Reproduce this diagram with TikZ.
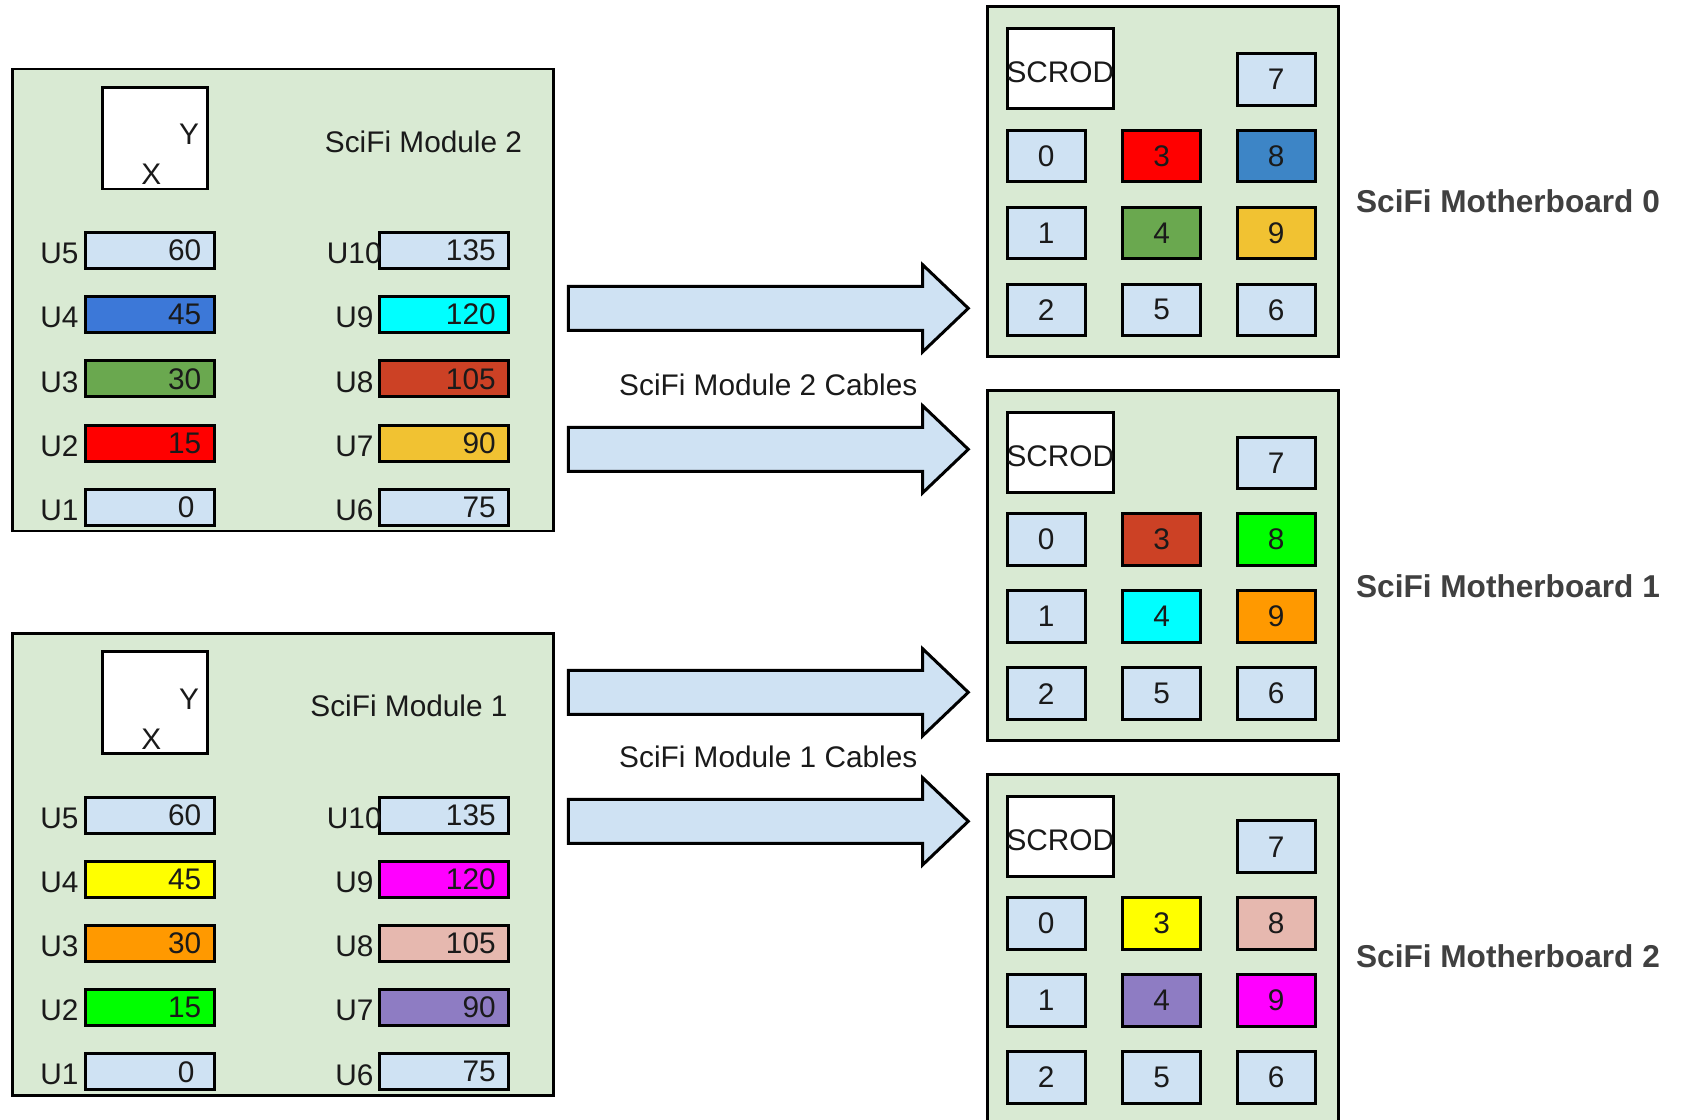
\documentclass[tikz,border=0pt]{standalone}
\usepackage{fontspec}
\setmainfont{Liberation Sans}
\definecolor{bggreen}{HTML}{D9EAD3}
\definecolor{lblue}{HTML}{CFE2F3}
\definecolor{txtc}{HTML}{1A1A1A}
\definecolor{mbtxt}{HTML}{404040}
\definecolor{m2c4}{HTML}{3C78D8}
\definecolor{m2c3}{HTML}{6AA84F}
\definecolor{m2c2}{HTML}{FF0000}
\definecolor{m2c9}{HTML}{00FFFF}
\definecolor{m2c8}{HTML}{CC4125}
\definecolor{m2c7}{HTML}{F1C232}
\definecolor{m1c4}{HTML}{FFFF00}
\definecolor{m1c3}{HTML}{FF9900}
\definecolor{m1c2}{HTML}{00FF00}
\definecolor{m1c9}{HTML}{FF00FF}
\definecolor{m1c8}{HTML}{E6B8AF}
\definecolor{m1c7}{HTML}{8E7CC3}
\definecolor{mbblue}{HTML}{3D85C6}
\tikzset{
  every node/.style={font=\fontsize{14.9pt}{17pt}\selectfont, text=txtc},
  modbox/.style={draw=black, fill=bggreen, line width=1.4pt, inner sep=0pt},
  xybox/.style={draw=black, fill=white, line width=1.4pt, inner sep=0pt, minimum width=52.5pt, minimum height=50.9pt},
  txt/.style={inner sep=0pt},
  bar/.style={draw=black, line width=1.5pt, inner ysep=0pt, inner xsep=6.4pt, minimum height=18pt, text width=51.7pt, align=right},
  ulab/.style={inner sep=0pt},
  mbbox/.style={draw=black, fill=bggreen, line width=1.4pt, inner sep=0pt, minimum width=175.5pt, minimum height=174.75pt},
  scrod/.style={draw=black, fill=white, line width=1.5pt, inner sep=0pt, minimum width=53pt, minimum height=40pt},
  cell/.style={draw=black, line width=1.5pt, inner sep=0pt, minimum width=38.85pt, minimum height=25.85pt},
  mblab/.style={inner sep=0pt, text=mbtxt, font=\fontsize{15.8pt}{18pt}\selectfont\bfseries},
  blockarrow/.style={draw=black, fill=lblue, line width=1.5pt}
}
% #1 prefix, #2 dy, #3 module number, #4 title x
\newcommand\scimodule[4]{%
  \node[modbox, minimum width=270.65pt, minimum height=231.05pt, anchor=north west] (#1box) at (10.7,67.5+#2) {};
  \node[xybox, anchor=north west] (#1xy) at (100.8,85.8+#2) {};
  \node[txt] (#1x) at (151.2,174.4+#2) {X};
  \node[txt] (#1y) at (189,134.7+#2) {Y};
  \node[txt] (#1title) at (#4,141.5+#2) {SciFi Module #3};
  \foreach \u/\v/\c/\r in {5/60/lblue/0,4/45/#1c4/1,3/30/#1c3/2,2/15/#1c2/3,1/0\hspace*{3.4pt}/lblue/4}{
    \node[bar, fill=\c] (#1u\u) at (149.5,250.5+64.2*\r+#2) {\v};
    \node[ulab] (#1l\u) at (59.5,253.5+64.2*\r+#2) {U\u};
  }
  \foreach \u/\v/\c/\r in {10/135/lblue/0,9/120/#1c9/1,8/105/#1c8/2,7/90/#1c7/3,6/75/lblue/4}{
    \node[bar, fill=\c] (#1u\u) at (444,250.5+64.2*\r+#2) {\v};
    \node[ulab] (#1l\u) at (354.3,253.5+64.2*\r+#2) {U\u};
  }
}
% #1 id, #2 ytop, #3 label y, #4 c3, #5 c4, #6 c8, #7 c9
\newcommand\mboard[7]{%
  \node[mbbox, anchor=north west] (mb#1) at (986,#2) {};
  \node[scrod] (mb#1s) at (1060.3,#2+63) {};
  \node[txt] (mb#1st) at (1060.3,#2+67) {SCROD};
  \node[cell, fill=lblue] (mb#1k7) at (1276.15,#2+73.8) {7};
  \node[cell, fill=lblue] (mb#1k0) at (1046.15,#2+150.45) {0};
  \node[cell, fill=lblue] (mb#1k1) at (1046.15,#2+227.45) {1};
  \node[cell, fill=lblue] (mb#1k2) at (1046.15,#2+304.45) {2};
  \node[cell, fill=#4] (mb#1k3) at (1161.55,#2+150.45) {3};
  \node[cell, fill=#5] (mb#1k4) at (1161.55,#2+227.45) {4};
  \node[cell, fill=lblue] (mb#1k5) at (1161.55,#2+304.45) {5};
  \node[cell, fill=#6] (mb#1k8) at (1276.15,#2+150.45) {8};
  \node[cell, fill=#7] (mb#1k9) at (1276.15,#2+227.45) {9};
  \node[cell, fill=lblue] (mb#1k6) at (1276.15,#2+304.45) {6};
  \node[mblab] (mb#1lab) at (1508,#3) {SciFi Motherboard #1};
}
\newcommand\blockarr[1]{%
  \draw[blockarrow] (568.3,#1-22) -- (922.7,#1-22) -- (922.7,#1-43.5) -- (968.3,#1) -- (922.7,#1+43.5) -- (922.7,#1+22) -- (568.3,#1+22) -- cycle;
}
\begin{document}
\begin{tikzpicture}[x=0.5pt, y=-0.5pt]
\useasboundingbox (0,0) rectangle (1681,1119);
\clip (0,0) rectangle (1681,1119);
\scimodule{m2}{0}{2}{423.5}
\scimodule{m1}{564.5}{1}{409}
\mboard{0}{5.4}{201.2}{m2c2}{m2c3}{mbblue}{m2c7}
\mboard{1}{389.2}{586.2}{m2c8}{m2c9}{m1c2}{m1c3}
\mboard{2}{773}{956.2}{m1c4}{m1c7}{m1c8}{m1c9}
\blockarr{308.3}
\blockarr{449.3}
\blockarr{692.3}
\blockarr{821.3}
\node[txt] (cab2) at (768.3,385) {SciFi Module 2 Cables};
\node[txt] (cab1) at (768.3,756.7) {SciFi Module 1 Cables};
\end{tikzpicture}
\end{document}
